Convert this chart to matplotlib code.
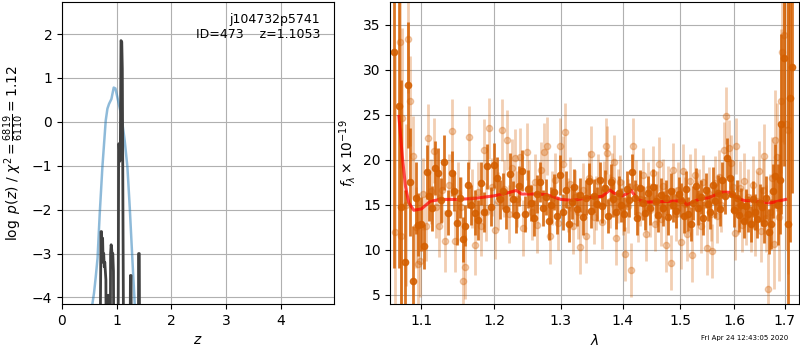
import time
import matplotlib
matplotlib.use("Agg")
import matplotlib.pyplot as plt
from matplotlib.ticker import NullLocator

# === p(z) panel === #
pz_z = [0.680, 0.712, 0.722, 0.732, 0.742, 0.752, 0.762, 0.772, 0.782, 0.792,
        0.802, 0.815, 0.835, 0.845, 0.855, 0.875, 0.888, 0.898, 0.908, 0.918,
        0.928, 0.940, 0.955, 0.975, 1.020, 1.035, 1.045, 1.055, 1.065, 1.078,
        1.092, 1.102, 1.135, 1.235, 1.250, 1.262, 1.275, 1.390, 1.400, 1.412,
        1.425]
pz_logp = [-8, -2.5, -2.5, -2.9, -2.65, -3.2, -3.0, -3.3, -3.2, -3.4,
           -3.6, -8, -8, -3.95, -8, -8, -3.0, -2.8, -2.9, -3.1,
           -3.0, -3.4, -8, -8, -8, -0.5, -0.5, -0.9, -0.8, 1.85,
           1.82, 1.2, -8, -8, -3.5, -3.5, -8, -8, -3.0, -3.0,
           -8]

prior_z = [0.540, 0.555, 0.585, 0.616, 0.650, 0.689, 0.738, 0.799, 0.830, 0.860,
           0.903, 0.945, 0.976, 1.024, 1.085, 1.146, 1.195, 1.238, 1.287, 1.329,
           1.345]
prior_logp = [-4.6, -4.15, -3.9, -3.54, -3.1, -2.10, -1.03, 0.03, 0.30, 0.41,
              0.52, 0.78, 0.76, 0.49, 0.14, -0.43, -1.03, -1.95, -3.16, -4.15,
              -4.6]

# === espectro: serie oscura === #
wave_a = [1.0647, 1.0707, 1.0733, 1.0784, 1.0819, 1.0849, 1.0892, 1.0928, 1.0958, 1.1000,
          1.1037, 1.1077, 1.1105, 1.1135, 1.1180, 1.1224, 1.1262, 1.1305, 1.1359, 1.1406,
          1.1440, 1.1474, 1.1515, 1.1557, 1.1589, 1.1626, 1.1680, 1.1729, 1.1770, 1.1815,
          1.1860, 1.1905, 1.1950, 1.2000, 1.2045, 1.2090, 1.2135, 1.2180, 1.2225, 1.2270,
          1.2315, 1.2360, 1.2405, 1.2450, 1.2495, 1.2540, 1.2585, 1.2630, 1.2675, 1.2720,
          1.2765, 1.2810, 1.2855, 1.2900, 1.2945, 1.2990, 1.3035, 1.3080, 1.3125, 1.3170,
          1.3215, 1.3260, 1.3305, 1.3350, 1.3395, 1.3440, 1.3485, 1.3530, 1.3575, 1.3620,
          1.3665, 1.3710, 1.3755, 1.3800, 1.3845, 1.3890, 1.3935, 1.3980, 1.4025, 1.4070,
          1.4115, 1.4160, 1.4205, 1.4250, 1.4295, 1.4340, 1.4385, 1.4430, 1.4475, 1.4520,
          1.4565, 1.4610, 1.4655, 1.4700, 1.4745, 1.4790, 1.4835, 1.4880, 1.4925, 1.4970,
          1.5015, 1.5060, 1.5105, 1.5150, 1.5195, 1.5240, 1.5285, 1.5330, 1.5375, 1.5420,
          1.5465, 1.5510, 1.5555, 1.5600, 1.5645, 1.5690, 1.5735, 1.5780, 1.5825, 1.5870,
          1.5915, 1.5960, 1.6005, 1.6050, 1.6095, 1.6140, 1.6185, 1.6230, 1.6275, 1.6320,
          1.6365, 1.6410, 1.6455, 1.6500, 1.6545, 1.6590, 1.6635, 1.6680, 1.6725, 1.6770,
          1.6815, 1.6860, 1.6905, 1.6930, 1.6991, 1.7066, 1.7114, 1.7161]
flux_a = [32.0, 26.0, 14.8, 8.7, 28.3, 17.5, 6.6, 15.8, 12.8, 12.9,
          10.4, 18.6, 16.0, 14.6, 19.1, 18.5, 15.5, 19.7, 14.1, 18.5,
          16.5, 13.0, 15.8, 11.2, 12.7, 17.2, 15.0, 14.1, 13.3, 17.4,
          14.2, 19.3, 14.8, 19.4, 18.0, 15.6, 16.5, 14.5, 18.4, 15.6,
          13.9, 17.1, 18.8, 14.0, 16.8, 15.2, 13.5, 16.2, 17.5, 14.6,
          15.9, 13.2, 15.0, 16.4, 13.8, 18.3, 14.2, 16.7, 12.9, 15.3,
          17.0, 14.5, 16.1, 13.6, 15.8, 17.6, 14.3, 16.0, 15.1, 17.8,
          14.9, 16.9, 13.8, 17.5, 15.6, 14.2, 16.3, 15.0, 14.0, 16.8,
          15.5, 18.6, 15.8, 13.5, 16.9, 15.2, 14.1, 16.3, 14.7, 17.0,
          15.4, 13.9, 16.1, 14.6, 15.8, 13.6, 16.5, 15.0, 14.3, 16.2,
          15.5, 13.8, 16.8, 14.0, 12.9, 15.2, 17.1, 14.7, 15.9, 13.5,
          16.6, 15.1, 14.2, 17.2, 15.4, 16.3, 14.5, 17.8, 16.0, 20.2,
          18.0, 16.2, 14.4, 15.8, 13.9, 15.0, 13.2, 14.9, 14.0, 12.9,
          15.6, 14.2, 13.4, 15.2, 14.8, 13.0, 15.8, 12.0, 12.9, 16.5,
          18.2, 15.0, 17.8, 24.0, 31.3, 12.9, 26.9, 30.3]
err_a = [24, 18, 14, 8, 7, 6, 6, 4, 3.5, 3.0,
         2.5, 3.0, 2.8, 2.5, 3.0, 2.8, 2.5, 3.0, 2.5, 2.5,
         2.2, 2.5, 2.3, 2.5, 2.3, 2.5, 2.2, 2.5, 2.2, 2.4,
         2.2, 2.5, 2.2, 2.5, 2.3, 2.2, 2.0, 2.2, 2.4, 2.0,
         2.0, 2.2, 2.3, 2.0, 2.1, 2.0, 2.0, 2.1, 2.2, 2.0,
         2.0, 2.1, 2.0, 2.0, 2.0, 2.2, 2.0, 2.0, 2.0, 1.9,
         2.0, 1.9, 1.9, 2.0, 1.9, 2.0, 1.9, 1.9, 1.9, 2.0,
         1.9, 2.0, 1.9, 2.0, 1.9, 1.9, 1.9, 1.9, 1.9, 2.0,
         1.9, 2.0, 1.9, 1.9, 2.0, 1.9, 1.9, 1.9, 1.9, 2.0,
         1.9, 1.9, 1.9, 1.9, 1.9, 1.9, 2.0, 1.9, 1.9, 1.9,
         1.9, 1.9, 2.0, 1.9, 1.9, 1.9, 2.0, 1.9, 1.9, 1.9,
         1.9, 1.9, 1.9, 2.0, 1.9, 2.0, 1.9, 2.0, 2.0, 2.2,
         2.1, 2.0, 1.9, 1.9, 1.9, 1.9, 1.9, 1.9, 2.0, 2.0,
         2.0, 2.0, 2.1, 2.1, 2.2, 2.2, 2.4, 2.5, 2.8, 3.0,
         3.5, 4.5, 6.0, 10, 12, 25, 16, 14]

# === espectro: serie clara === #
wave_b = [1.0660, 1.0720, 1.0735, 1.0750, 1.0800, 1.0827, 1.0849, 1.0892, 1.0930, 1.0958,
          1.0980, 1.1020, 1.1060, 1.1090, 1.1120, 1.1160, 1.1200, 1.1240, 1.1280, 1.1320,
          1.1370, 1.1414, 1.1450, 1.1490, 1.1530, 1.1557, 1.1589, 1.1649, 1.1690, 1.1729,
          1.1770, 1.1810, 1.1850, 1.1890, 1.1929, 1.1970, 1.2010, 1.2050, 1.2111, 1.2150,
          1.2184, 1.2220, 1.2260, 1.2300, 1.2340, 1.2380, 1.2419, 1.2479, 1.2520, 1.2560,
          1.2600, 1.2640, 1.2690, 1.2736, 1.2782, 1.2833, 1.2870, 1.2910, 1.2950, 1.2988,
          1.3030, 1.3066, 1.3110, 1.3150, 1.3190, 1.3230, 1.3270, 1.3303, 1.3350, 1.3399,
          1.3440, 1.3475, 1.3520, 1.3560, 1.3600, 1.3650, 1.3690, 1.3723, 1.3745, 1.3790,
          1.3830, 1.3860, 1.3887, 1.3920, 1.3960, 1.4000, 1.4043, 1.4090, 1.4139, 1.4178,
          1.4220, 1.4260, 1.4300, 1.4340, 1.4390, 1.4430, 1.4470, 1.4520, 1.4560, 1.4590,
          1.4620, 1.4660, 1.4700, 1.4751, 1.4790, 1.4840, 1.4880, 1.4920, 1.4960, 1.5008,
          1.5050, 1.5090, 1.5130, 1.5170, 1.5220, 1.5260, 1.5300, 1.5340, 1.5380, 1.5420,
          1.5483, 1.5520, 1.5560, 1.5589, 1.5630, 1.5670, 1.5710, 1.5760, 1.5800, 1.5851,
          1.5900, 1.5950, 1.5990, 1.6027, 1.6046, 1.6080, 1.6120, 1.6160, 1.6200, 1.6240,
          1.6280, 1.6320, 1.6360, 1.6400, 1.6440, 1.6480, 1.6520, 1.6560, 1.6587, 1.6620,
          1.6673, 1.6710, 1.6750, 1.6790, 1.6807, 1.6850, 1.6880, 1.6920, 1.6944, 1.6991,
          1.7030, 1.7079]
flux_b = [12.0, 33.1, 11.5, 24.6, 15.0, 33.4, 26.5, 20.4, 12.5, 8.4,
          8.8, 16.2, 12.6, 22.4, 16.5, 21.0, 14.8, 12.7, 16.6, 11.0,
          17.2, 23.2, 11.0, 16.3, 14.8, 6.5, 8.1, 22.5, 15.7, 10.6,
          16.4, 12.6, 21.1, 14.2, 23.5, 17.0, 12.2, 15.4, 23.3, 16.8,
          22.2, 14.0, 19.1, 20.2, 15.6, 20.3, 12.4, 20.9, 16.9, 14.2,
          17.5, 12.8, 18.9, 20.9, 21.5, 11.5, 15.8, 17.7, 13.0, 21.5,
          19.5, 23.1, 15.0, 17.3, 12.6, 15.9, 14.2, 10.3, 16.6, 11.5,
          18.0, 20.6, 13.7, 15.2, 17.6, 13.1, 16.9, 21.5, 20.7, 15.4,
          17.8, 19.8, 11.3, 16.0, 17.5, 14.7, 9.5, 14.9, 7.8, 21.5,
          17.0, 13.9, 15.7, 18.3, 11.8, 16.8, 14.4, 18.5, 12.9, 15.8,
          19.5, 13.4, 17.1, 10.6, 16.3, 8.6, 18.9, 14.0, 16.7, 10.9,
          18.8, 15.1, 11.8, 17.6, 9.4, 18.3, 14.6, 16.0, 12.7, 17.5,
          10.2, 16.2, 14.0, 9.9, 17.4, 13.8, 18.1, 15.0, 21.1, 24.9,
          21.3, 19.6, 17.0, 11.9, 21.5, 14.8, 16.9, 12.8, 17.6, 13.6,
          15.9, 13.0, 17.2, 12.6, 15.4, 18.7, 12.1, 16.6, 20.4, 13.5,
          5.7, 14.2, 18.0, 10.7, 22.2, 20.3, 13.6, 26.5, 32.0, 33.8,
          24.0, 23.3]
err_b = [20, 14, 12, 10, 9, 6, 5, 4.5, 4.5, 4.5,
         4.0, 4.0, 3.8, 3.8, 3.6, 3.6, 3.5, 3.5, 3.5, 3.4,
         3.4, 3.5, 3.4, 3.4, 3.3, 3.6, 3.5, 3.5, 3.3, 3.4,
         3.3, 3.3, 3.4, 3.2, 3.4, 3.2, 3.2, 3.2, 3.4, 3.2,
         3.3, 3.2, 3.2, 3.2, 3.1, 3.2, 3.1, 3.2, 3.1, 3.1,
         3.1, 3.1, 3.1, 3.2, 3.2, 3.1, 3.0, 3.0, 3.0, 3.1,
         3.1, 3.2, 3.0, 3.0, 3.0, 3.0, 3.0, 3.0, 3.0, 3.0,
         3.0, 3.1, 3.0, 3.0, 3.0, 3.0, 3.0, 3.1, 3.1, 3.0,
         3.0, 3.0, 3.0, 3.0, 3.0, 3.0, 3.0, 3.0, 3.0, 3.1,
         3.0, 3.0, 3.0, 3.0, 3.0, 3.0, 3.0, 3.0, 3.0, 3.0,
         3.0, 3.0, 3.0, 3.0, 3.0, 3.0, 3.0, 3.0, 3.0, 3.0,
         3.0, 3.0, 3.0, 3.0, 3.0, 3.0, 3.0, 3.0, 3.0, 3.0,
         3.0, 3.0, 3.0, 3.0, 3.0, 3.0, 3.0, 3.0, 3.1, 3.2,
         3.1, 3.1, 3.0, 3.0, 3.1, 3.0, 3.0, 3.0, 3.1, 3.1,
         3.1, 3.2, 3.2, 3.3, 3.3, 3.4, 3.4, 3.5, 3.6, 3.7,
         4.0, 4.2, 4.5, 5.0, 5.5, 6.0, 7.0, 8.0, 10, 12,
         14, 16]

# === modelo === #
model_wave = [1.0707, 1.0750, 1.0792, 1.0835, 1.0900, 1.1000, 1.1118, 1.1251, 1.1478, 1.1706,
              1.2000, 1.2182, 1.2328, 1.2401, 1.2672, 1.2797, 1.3000, 1.3184, 1.3449, 1.3665,
              1.3786, 1.3857, 1.4000, 1.4058, 1.4142, 1.4254, 1.4396, 1.4854, 1.5000, 1.5032,
              1.5121, 1.5334, 1.5518, 1.5766, 1.5892, 1.6052, 1.6180, 1.6470, 1.6700, 1.6865,
              1.7020]
model_flux = [24.8, 20.4, 17.0, 15.2, 14.4, 14.55, 15.4, 15.6, 15.6, 15.7,
              16.0, 16.3, 16.6, 16.2, 16.2, 16.1, 15.6, 15.5, 15.8, 15.95,
              16.65, 16.3, 16.0, 16.2, 16.6, 15.6, 15.3, 15.4, 15.45, 15.6,
              15.0, 15.6, 15.8, 16.4, 16.4, 15.8, 15.5, 15.4, 15.2, 15.4,
              15.6]

lam_ticks = [1.1, 1.2, 1.3, 1.4, 1.5, 1.6, 1.7]
color_spec = "#d45f00"

fig = plt.figure(figsize=(8, 3.5), dpi=100)

# --- panel izquierdo --- #
ax1 = fig.add_axes([0.0775, 0.1314, 0.34, 0.8629])
ax1.plot(prior_z, prior_logp, color="C0", alpha=0.5, lw=1.8)
ax1.plot(pz_z, pz_logp, color="0.25", lw=2)
ax1.set_xlim(0, 4.97)
ax1.set_ylim(-4.15, 2.73)
ax1.set_xticks([0, 1, 2, 3, 4])
ax1.set_yticks([-4, -3, -2, -1, 0, 1, 2])
ax1.grid(True)
ax1.set_xlabel(r"$z$")
ax1.set_ylabel(r"$\log\ p(z)$ / $\chi^2=\frac{6819}{6110}=1.12$")
ax1.text(0.95, 0.965, "j104732p5741\nID=473    z=1.1053", ha="right", va="top",
         transform=ax1.transAxes, fontsize=9)

# --- panel derecho --- #
ax2 = fig.add_axes([0.4881, 0.1314, 0.511, 0.8629])
ax2.errorbar(wave_b, flux_b, yerr=err_b, marker="o", ms=4.5, ls="none",
             color=color_spec, alpha=0.3, elinewidth=2, capsize=0)
ax2.errorbar(wave_a, flux_a, yerr=err_a, marker="o", ms=4.5, ls="none",
             color=color_spec, alpha=0.85, elinewidth=2, capsize=0)
ax2.plot(model_wave, model_flux, color="red", alpha=0.7, lw=2.2)
ax2.set_xscale("log")
ax2.set_xlim(1.0599, 1.7302)
ax2.set_ylim(4, 37.5)
ax2.set_xticks(lam_ticks)
ax2.set_xticklabels([f"{t:.1f}" for t in lam_ticks])
ax2.xaxis.set_minor_locator(NullLocator())
ax2.set_yticks([5, 10, 15, 20, 25, 30, 35])
ax2.grid(True)
ax2.set_xlabel(r"$\lambda$")
ax2.set_ylabel(r"$f_\lambda\times10^{-19}$")

fig.text(0.985, 0.025, "Fri Apr 24 12:43:05 2020", ha="right", va="bottom", fontsize=5)

fig.savefig("out.png", dpi=100)
plt.close(fig)
